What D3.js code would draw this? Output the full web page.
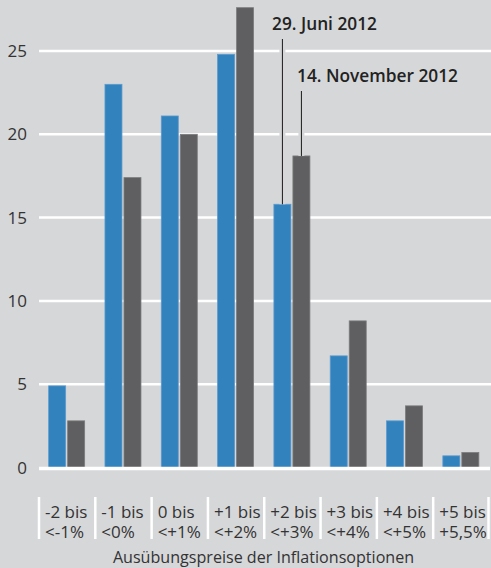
<!DOCTYPE html>
<html>
<head>
<meta charset="utf-8">
<script src="https://cdn.jsdelivr.net/npm/d3@7"></script>
<style>
  body { margin: 0; background: #d6d7d9; }
  svg { display: block; font-family: "Open Sans", "Noto Sans", sans-serif; }
</style>
</head>
<body>
<svg class="viz"></svg>
<script>
var width = 491,
  height = 568;

// categories, two label lines each
var line1 = ["-2 bis", "-1 bis", "0 bis", "+1 bis", "+2 bis", "+3 bis", "+4 bis", "+5 bis"];
var line2 = ["<-1%", "<0%", "<+1%", "<+2%", "<+3%", "<+4%", "<+5%", "+5,5%"];

// series values
var juni = [4.9, 23.0, 21.1, 24.8, 15.8, 6.7, 2.8, 0.7];
var november = [2.8, 17.4, 20.0, 27.6, 18.7, 8.8, 3.7, 0.9];

var y_ticks = [0, 5, 10, 15, 20, 25];
var series_names = ["29. Juni 2012", "14. November 2012"];
var axis_title = "Ausübungspreise der Inflationsoptionen";

var colors = ["#3282bd", "#5f5f61"];
var strokes = ["#5c9bd0", "#7c7c7e"];

var viz = d3.select(".viz")
  .attr("width", width)
  .attr("height", height);

viz.append("rect").attr("width", width).attr("height", height).attr("fill", "#d6d7d9");

var x = d3.scaleBand()
  .domain(d3.range(line1.length))
  .range([38.5, 489]);

var y = d3.scaleLinear()
  .domain([0, 25])
  .range([467.5, 51]);

var bar_w = 17, bar_gap = 2;

// gridlines
viz.selectAll(".grid")
  .data(y_ticks.filter(d => d > 0))
  .enter().append("line")
  .attr("x1", 39).attr("x2", width)
  .attr("y1", d => y(d)).attr("y2", d => y(d))
  .attr("stroke", "#fff").attr("stroke-width", 2.5);

// y tick labels
viz.selectAll(".ytick")
  .data(y_ticks)
  .enter().append("text")
  .attr("x", 27)
  .attr("y", d => y(d) + 6)
  .attr("text-anchor", "end")
  .attr("font-size", 17)
  .attr("fill", "#333")
  .text(d => d);

// bars
var series = [juni, november];
var groups = viz.selectAll(".series")
  .data(series)
  .enter().append("g");

groups.each(function(vals, s) {
  d3.select(this).selectAll("rect")
    .data(vals)
    .enter().append("rect")
    .attr("x", (d, i) => x(i) + x.bandwidth() / 2 - bar_w - bar_gap / 2 + s * (bar_w + bar_gap))
    .attr("width", bar_w)
    .attr("y", d => y(d))
    .attr("height", d => y(0) - y(d))
    .attr("fill", colors[s])
    .attr("stroke", strokes[s])
    .attr("stroke-width", 0.8);
});

// zero line
viz.append("line")
  .attr("x1", 39).attr("x2", 490)
  .attr("y1", y(0) + 1).attr("y2", y(0) + 1)
  .attr("stroke", "#fff").attr("stroke-width", 3.5);

// annotations (leader line with background halo to break gridlines)
var notes = [
  { s: 0, i: 4, text_x: 272, text_y: 30, line_top: 39 },
  { s: 1, i: 4, text_x: 297, text_y: 82, line_top: 91 }
];
notes.forEach(function(n) {
  var cx = x(n.i) + x.bandwidth() / 2 - bar_w / 2 - bar_gap / 2 + n.s * (bar_w + bar_gap);
  var vals = series[n.s];
  viz.append("line")
    .attr("x1", cx).attr("x2", cx)
    .attr("y1", n.line_top).attr("y2", y(vals[n.i]))
    .attr("stroke", "#d6d7d9").attr("stroke-width", 6);
  viz.append("line")
    .attr("x1", cx).attr("x2", cx)
    .attr("y1", n.line_top).attr("y2", y(vals[n.i]))
    .attr("stroke", "#1a1a1a").attr("stroke-width", 1);
  viz.append("text")
    .attr("x", n.text_x).attr("y", n.text_y)
    .attr("font-size", 17.3)
    .attr("font-weight", 600)
    .attr("fill", "#222")
    .text(series_names[n.s]);
});

// category label boxes
viz.selectAll(".sep")
  .data(d3.range(line1.length + 1))
  .enter().append("line")
  .attr("x1", i => i < line1.length ? x(i) + 0.5 : x(line1.length - 1) + x.bandwidth() - 0.5)
  .attr("x2", i => i < line1.length ? x(i) + 0.5 : x(line1.length - 1) + x.bandwidth() - 0.5)
  .attr("y1", 497).attr("y2", 539)
  .attr("stroke", "#fff").attr("stroke-width", 2.5);

var labels = viz.selectAll(".xlab")
  .data(d3.range(line1.length))
  .enter().append("text")
  .attr("font-size", 17)
  .attr("fill", "#333");
labels.append("tspan")
  .attr("x", i => x(i) + 6.5).attr("y", 517.5)
  .text(i => line1[i]);
labels.append("tspan")
  .attr("x", i => x(i) + 6.5).attr("y", 537.5)
  .text(i => line2[i]);

viz.append("text")
  .attr("x", 263.5).attr("y", 563)
  .attr("text-anchor", "middle")
  .attr("font-size", 16.1)
  .attr("fill", "#333")
  .text(axis_title);
</script>
</body>
</html>
